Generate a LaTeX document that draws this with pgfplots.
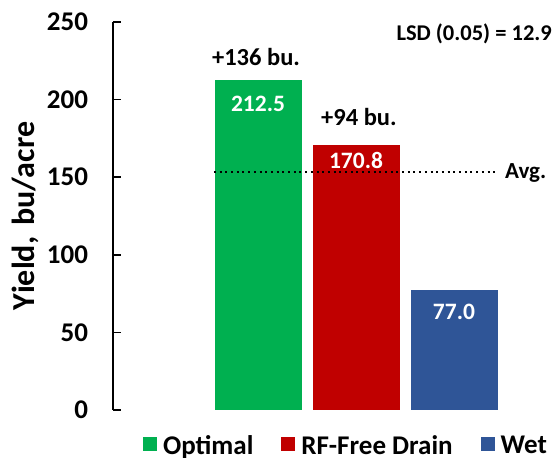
\documentclass[border=0pt]{standalone}
\usepackage{fontspec}
\setmainfont{Carlito}
\usepackage{pgfplots}
\pgfplotsset{compat=1.18}
\definecolor{cgreen}{HTML}{00B050}
\definecolor{cred}{HTML}{C00000}
\definecolor{cblue}{HTML}{2F5597}
\begin{document}
\begin{tikzpicture}
\path[use as bounding box] (0,0) rectangle (555pt,458pt);
\begin{axis}[
  at={(113pt,48pt)}, anchor=south west,
  scale only axis, width=442pt, height=388pt,
  xmin=-1.4796, xmax=3.0306, ymin=0, ymax=250,
  axis x line=none, axis y line=left,
  y axis line style={-, line width=1.5pt, black},
  ytick={0,50,...,250}, tick align=inside, major tick length=8pt,
  ytick style={line width=1.5pt, black},
  /pgf/number format/assume math mode=true,
  yticklabel style={font=\bfseries\fontsize{27}{27}\selectfont, inner sep=0pt, outer sep=0pt, xshift=-25pt},
  ylabel={Yield,\hspace{4pt} bu/acre},
  every axis y label/.style={at={(axis description cs:-0.1765,0.5)}, anchor=base, rotate=90, font=\bfseries\fontsize{32}{32}\selectfont},
  ybar, bar width=87pt,
  clip=false,
  legend columns=3,
  legend style={at={(axis description cs:0.0679,-0.1180)}, anchor=south west, draw=none, fill=none,
    inner sep=0pt, outer sep=0pt, font=\bfseries\fontsize{27}{27}\selectfont,
    nodes={inner sep=0pt, outer sep=0pt},
    /tikz/every odd column/.append style={column sep=6pt},
    /tikz/every even column/.append style={column sep=28pt}},
  legend image code/.code={\fill[#1] (0pt,-5pt) rectangle (14pt,9pt);},
]
\addplot[fill=cgreen, draw=none, bar shift=0pt] coordinates {(0,212.5)};
\addlegendentry{Optimal}
\addplot[fill=cred, draw=none, bar shift=0pt] coordinates {(1,170.8)};
\addlegendentry{RF-Free Drain}
\addplot[fill=cblue, draw=none, bar shift=0pt] coordinates {(2,77.0)};
\addlegendentry{Wet}
\addplot[sharp plot, forget plot, black, line width=2pt, dash pattern=on 2pt off 3.7pt] coordinates {(-0.449,153.4) (2.429,153.4)};

\node[anchor=base, white, font=\bfseries\fontsize{23.5}{23.5}\selectfont] at (axis cs:0,192.2) {212.5};
\node[anchor=base, white, font=\bfseries\fontsize{23.5}{23.5}\selectfont] at (axis cs:1,155.7) {170.8};
\node[anchor=base, white, font=\bfseries\fontsize{23.5}{23.5}\selectfont] at (axis cs:2,58.4) {77.0};
\node[anchor=base, font=\bfseries\fontsize{24.5}{24.5}\selectfont] at (axis cs:-0.02,221.9) {+136 bu.};
\node[anchor=base, font=\bfseries\fontsize{24.5}{24.5}\selectfont] at (axis cs:1.03,183.0) {+94 bu.};
\node[anchor=base east, inner sep=0pt, font=\bfseries\fontsize{22.5}{22.5}\selectfont] at (axis cs:3.0,238.4) {LSD (0.05) = 12.9};
\node[anchor=base west, inner sep=0pt, font=\bfseries\fontsize{23}{23}\selectfont] at (axis cs:2.52,149.3) {Avg.};
\end{axis}
\end{tikzpicture}
\end{document}
